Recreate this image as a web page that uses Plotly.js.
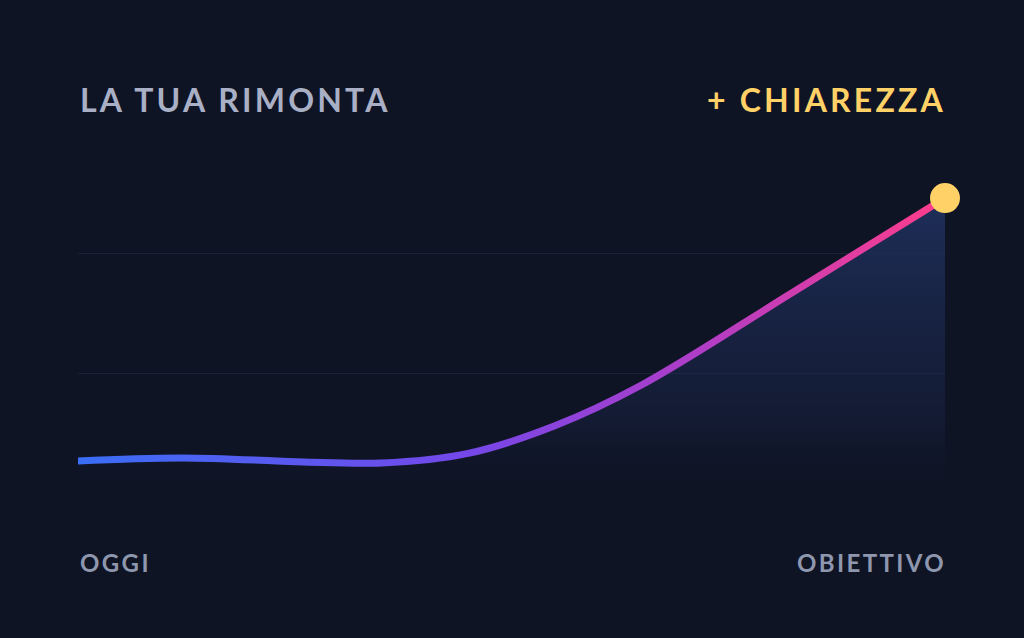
<!DOCTYPE html>
<html>
<head>
<meta charset="utf-8">
<script src="https://cdn.plot.ly/plotly-3.0.1.min.js"></script>
<style>
html,body{margin:0;padding:0;background:#0f1425;}
#chart{width:1024px;height:638px;}
.annotation-text{letter-spacing:0.1em;}
</style>
</head>
<body>
<div id="chart"></div>
<script>
// Progress along the journey (0 = oggi, 10 = obiettivo)
const steps = [0, 1.2, 3.5, 4.5, 5.5, 6.5, 8.25, 10];
const progress = [0.267, 0.292, 0.25, 0.33, 0.56, 0.90, 1.675, 2.458];
const gridValues = [1, 2];
const titleLeft = "LA TUA RIMONTA";
const titleRight = "+ CHIAREZZA";
const labelStart = "OGGI";
const labelEnd = "OBIETTIVO";

const lastX = steps[steps.length - 1];
const lastY = progress[progress.length - 1];

const traces = [
  {
    x: steps, y: progress, type: 'scatter', mode: 'lines',
    line: {shape: 'spline', smoothing: 1, width: 7, color: '#7b45e8'},
    fill: 'tozeroy',
    fillgradient: {
      type: 'vertical', start: 0, stop: lastY,
      colorscale: [[0, 'rgba(15,20,37,0)'], [0.25, 'rgba(25,36,70,0.45)'], [1, 'rgba(31,48,92,0.95)']]
    },
    cliponaxis: false,
    hoverinfo: 'skip'
  },
  {
    x: [lastX], y: [lastY], type: 'scatter', mode: 'markers',
    marker: {size: 30, color: '#ffd166'},
    cliponaxis: false, hoverinfo: 'skip'
  }
];

const layout = {
  width: 1024, height: 638,
  paper_bgcolor: '#0f1425', plot_bgcolor: '#0f1425',
  margin: {l: 78, r: 79, t: 150, b: 110},
  showlegend: false,
  font: {family: 'Lato, "Open Sans", sans-serif'},
  xaxis: {range: [0, 10], showgrid: false, zeroline: false, showticklabels: false, fixedrange: true},
  yaxis: {range: [-0.2917, 2.8583], tickvals: gridValues, showticklabels: false,
          gridcolor: '#1d2337', gridwidth: 1, zeroline: false, fixedrange: true},
  annotations: [
    {text: titleLeft, x: 0, y: 1.1323, xref: 'paper', yref: 'paper', xanchor: 'left', yanchor: 'middle',
     showarrow: false, font: {size: 32, color: '#a9b0c6', family: 'Lato', weight: 700}},
    {text: titleRight, x: 1, y: 1.1323, xref: 'paper', yref: 'paper', xanchor: 'right', yanchor: 'middle',
     xshift: 3, showarrow: false, font: {size: 32, color: '#ffd166', family: 'Lato', weight: 700}},
    {text: labelStart, x: 0, y: -0.0913, xref: 'paper', yref: 'paper', xanchor: 'left', yanchor: 'middle',
     showarrow: false, font: {size: 24, color: '#8e97ae', family: 'Lato', weight: 700}},
    {text: labelEnd, x: 1, y: -0.0913, xref: 'paper', yref: 'paper', xanchor: 'right', yanchor: 'middle',
     xshift: 3, showarrow: false, font: {size: 24, color: '#8e97ae', family: 'Lato', weight: 700}}
  ]
};

Plotly.newPlot('chart', traces, layout, {staticPlot: true, displayModeBar: false}).then(function (gd) {
  const svg = gd.querySelector('svg.main-svg');
  const ns = 'http://www.w3.org/2000/svg';
  let defs = svg.querySelector('defs');
  if (!defs) { defs = document.createElementNS(ns, 'defs'); svg.insertBefore(defs, svg.firstChild); }
  const grad = document.createElementNS(ns, 'linearGradient');
  grad.setAttribute('id', 'lineGrad');
  grad.setAttribute('x1', '0'); grad.setAttribute('y1', '0');
  grad.setAttribute('x2', '1'); grad.setAttribute('y2', '0');
  [[0, '#3a6ef6'], [0.45, '#7547e9'], [0.72, '#b13dc6'], [1, '#ff3d8a']].forEach(function (s) {
    const st = document.createElementNS(ns, 'stop');
    st.setAttribute('offset', s[0]);
    st.setAttribute('stop-color', s[1]);
    grad.appendChild(st);
  });
  defs.appendChild(grad);
  const line = gd.querySelector('.scatterlayer .trace .js-line');
  if (line) {
    line.style.stroke = 'url(#lineGrad)';
    line.style.strokeLinecap = 'round';
    line.style.strokeLinejoin = 'round';
  }
});
</script>
</body>
</html>
